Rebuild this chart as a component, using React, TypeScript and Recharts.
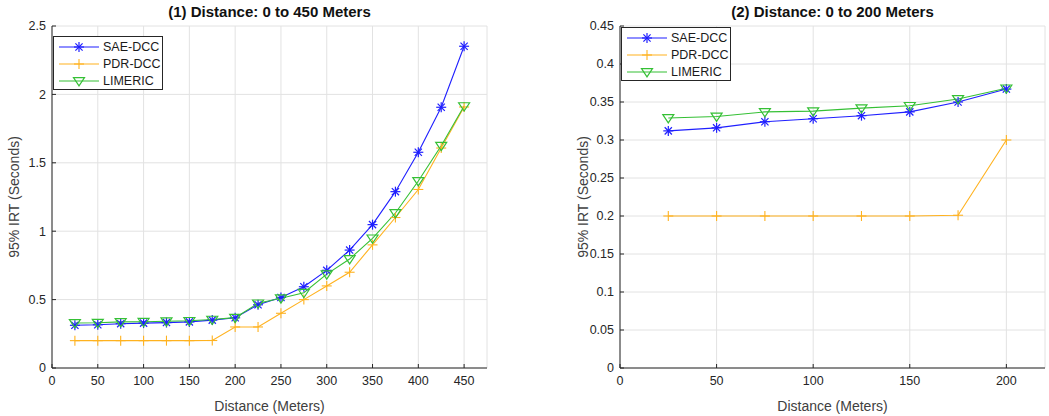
import { LineChart, Line, XAxis, YAxis, CartesianGrid, Label } from 'recharts'

const distanceFull = [25, 50, 75, 100, 125, 150, 175, 200, 225, 250, 275, 300, 325, 350, 375, 400, 425, 450]
const saeFull = [0.312, 0.316, 0.324, 0.328, 0.332, 0.337, 0.35, 0.367, 0.462, 0.516, 0.594, 0.714, 0.862, 1.048, 1.289, 1.577, 1.906, 2.352]
const pdrFull = [0.2, 0.2, 0.2, 0.2, 0.2, 0.2, 0.201, 0.3, 0.3, 0.4, 0.5, 0.6, 0.7, 0.9, 1.1, 1.305, 1.608, 1.908]
const limericFull = [0.329, 0.331, 0.337, 0.338, 0.342, 0.345, 0.354, 0.368, 0.473, 0.51, 0.55, 0.686, 0.797, 0.948, 1.133, 1.367, 1.625, 1.915]

const distanceShort = [25, 50, 75, 100, 125, 150, 175, 200]
const saeShort = [0.312, 0.316, 0.324, 0.328, 0.332, 0.337, 0.35, 0.367]
const pdrShort = [0.2, 0.2, 0.2, 0.2, 0.2, 0.2, 0.201, 0.3]
const limericShort = [0.329, 0.331, 0.337, 0.338, 0.342, 0.345, 0.354, 0.368]

const ticksFull = [0, 50, 100, 150, 200, 250, 300, 350, 400, 450]
const yTicksFull = [0, 0.5, 1, 1.5, 2, 2.5]
const ticksShort = [0, 50, 100, 150, 200]
const yTicksShort = [0, 0.05, 0.1, 0.15, 0.2, 0.25, 0.3, 0.35, 0.4, 0.45]

const BLUE = '#1f1fff'
const ORANGE = '#ffb21f'
const GREEN = '#35c035'
const AXIS = '#262626'
const FONT = '"Liberation Sans", Arial, sans-serif'

function buildRows(xs: number[], sae: number[], pdr: number[], lim: number[]) {
  return xs.map((d, i) => ({ d, sae: sae[i], pdr: pdr[i], lim: lim[i] }))
}

type DotProps = { cx?: number; cy?: number; index?: number }

function Star({ cx, cy, color, r = 5 }: { cx: number; cy: number; color: string; r?: number }) {
  const k = r * 0.72
  return (
    <g stroke={color} strokeWidth={1.2}>
      <line x1={cx - r} y1={cy} x2={cx + r} y2={cy} />
      <line x1={cx} y1={cy - r} x2={cx} y2={cy + r} />
      <line x1={cx - k} y1={cy - k} x2={cx + k} y2={cy + k} />
      <line x1={cx - k} y1={cy + k} x2={cx + k} y2={cy - k} />
    </g>
  )
}

function Plus({ cx, cy, color, r = 5 }: { cx: number; cy: number; color: string; r?: number }) {
  return (
    <g stroke={color} strokeWidth={1.1}>
      <line x1={cx - r} y1={cy} x2={cx + r} y2={cy} />
      <line x1={cx} y1={cy - r} x2={cx} y2={cy + r} />
    </g>
  )
}

function TriDown({ cx, cy, color, r = 5.5 }: { cx: number; cy: number; color: string; r?: number }) {
  const pts = `${cx - r},${cy - r * 0.6} ${cx + r},${cy - r * 0.6} ${cx},${cy + r * 0.9}`
  return <polygon points={pts} fill="none" stroke={color} strokeWidth={1.2} />
}

const starDot = (p: DotProps) =>
  p.cx == null || p.cy == null ? <g key={p.index} /> : <Star key={p.index} cx={p.cx} cy={p.cy} color={BLUE} />
const plusDot = (p: DotProps) =>
  p.cx == null || p.cy == null ? <g key={p.index} /> : <Plus key={p.index} cx={p.cx} cy={p.cy} color={ORANGE} />
const triDot = (p: DotProps) =>
  p.cx == null || p.cy == null ? <g key={p.index} /> : <TriDown key={p.index} cx={p.cx} cy={p.cy} color={GREEN} />

const legendItems = [
  { name: 'SAE-DCC', color: BLUE, Marker: Star },
  { name: 'PDR-DCC', color: ORANGE, Marker: Plus },
  { name: 'LIMERIC', color: GREEN, Marker: TriDown },
]

function LegendBox({ left, top }: { left: number; top: number }) {
  return (
    <div
      style={{
        position: 'absolute',
        left,
        top,
        width: 108,
        height: 52,
        boxSizing: 'content-box',
        border: `1px solid ${AXIS}`,
        background: '#fff',
        fontFamily: FONT,
        fontSize: 12.5,
        color: '#1a1a1a',
        whiteSpace: 'nowrap',
      }}
    >
      {legendItems.map(({ name, color, Marker }, i) => (
        <div key={name} style={{ position: 'absolute', left: 5, top: 2 + i * 17, height: 16, display: 'flex', alignItems: 'center' }}>
          <svg width={40} height={14} style={{ marginRight: 4 }}>
            <line x1={0} y1={7} x2={40} y2={7} stroke={color} strokeWidth={1.1} />
            <Marker cx={20} cy={7} color={color} />
          </svg>
          <span>{name}</span>
        </div>
      ))}
    </div>
  )
}

interface PanelProps {
  title: string
  rows: { d: number; sae: number; pdr: number; lim: number }[]
  xDomain: [number, number]
  xTicks: number[]
  yDomain: [number, number]
  yTicks: number[]
  left: number
  width: number
  marginLeft: number
  marginRight: number
  labelOffset: number
  legendTop: number
}

const tickStyle = { fontSize: 12.5, fill: AXIS, fontFamily: FONT }
const labelStyle = { fontSize: 14, fill: '#404040', fontFamily: FONT, textAnchor: 'middle' as const }
const inTick = { stroke: AXIS, strokeWidth: 1 }

function Panel(props: PanelProps) {
  const { title, rows, xDomain, xTicks, yDomain, yTicks, left, width, marginLeft, marginRight, labelOffset, legendTop } = props
  const plotLeft = marginLeft + 40
  const plotWidth = width - plotLeft - marginRight
  return (
    <div style={{ position: 'absolute', left, top: 0, width, height: 416 }}>
      <div
        style={{
          position: 'absolute',
          left: plotLeft,
          width: plotWidth,
          top: 3,
          textAlign: 'center',
          fontFamily: FONT,
          fontWeight: 'bold',
          fontSize: 15,
          color: '#111',
          whiteSpace: 'nowrap',
        }}
      >
        {title}
      </div>
      <LineChart width={width} height={416} data={rows} margin={{ top: 26, right: marginRight, bottom: 0, left: marginLeft }}>
        <CartesianGrid stroke="#e2e2e2" strokeWidth={1} />
        <XAxis
          dataKey="d"
          type="number"
          domain={xDomain}
          ticks={xTicks}
          allowDataOverflow
          height={48}
          tick={tickStyle}
          tickLine={inTick}
          tickSize={-4}
          tickMargin={12}
          axisLine={{ stroke: AXIS }}
        >
          <Label value="Distance (Meters)" position="insideBottom" offset={5} style={labelStyle} />
        </XAxis>
        <XAxis
          xAxisId="top"
          dataKey="d"
          type="number"
          domain={xDomain}
          ticks={xTicks}
          orientation="top"
          height={0}
          tick={false}
          tickLine={inTick}
          tickSize={-4}
          axisLine={{ stroke: AXIS }}
        />
        <YAxis
          type="number"
          domain={yDomain}
          ticks={yTicks}
          allowDataOverflow
          width={40}
          tick={tickStyle}
          tickLine={inTick}
          tickSize={-4}
          tickMargin={10}
          axisLine={{ stroke: AXIS }}
        >
          <Label value="95% IRT (Seconds)" angle={-90} position="insideLeft" offset={labelOffset} style={labelStyle} />
        </YAxis>
        <YAxis
          yAxisId="right"
          type="number"
          domain={yDomain}
          ticks={yTicks}
          orientation="right"
          width={0}
          tick={false}
          tickLine={inTick}
          tickSize={-4}
          axisLine={{ stroke: AXIS }}
        />
        <Line dataKey="sae" name="SAE-DCC" stroke={BLUE} strokeWidth={1.1} dot={starDot} activeDot={false} isAnimationActive={false} />
        <Line dataKey="pdr" name="PDR-DCC" stroke={ORANGE} strokeWidth={1.1} dot={plusDot} activeDot={false} isAnimationActive={false} />
        <Line dataKey="lim" name="LIMERIC" stroke={GREEN} strokeWidth={1.1} dot={triDot} activeDot={false} isAnimationActive={false} />
      </LineChart>
      <LegendBox left={plotLeft + 1} top={legendTop} />
    </div>
  )
}

export default function App() {
  return (
    <div style={{ position: 'absolute', left: 0, top: 0, width: 1049, height: 416, background: '#fff' }}>
      <Panel
        title="(1) Distance: 0 to 450 Meters"
        rows={buildRows(distanceFull, saeFull, pdrFull, limericFull)}
        xDomain={[0, 475]}
        xTicks={ticksFull}
        yDomain={[0, 2.5]}
        yTicks={yTicksFull}
        left={0}
        width={500}
        marginLeft={12}
        marginRight={13}
        labelOffset={2}
        legendTop={36}
      />
      <Panel
        title="(2) Distance: 0 to 200 Meters"
        rows={buildRows(distanceShort, saeShort, pdrShort, limericShort)}
        xDomain={[0, 220]}
        xTicks={ticksShort}
        yDomain={[0, 0.45]}
        yTicks={yTicksShort}
        left={560}
        width={489}
        marginLeft={20}
        marginRight={4}
        labelOffset={3}
        legendTop={27}
      />
    </div>
  )
}
